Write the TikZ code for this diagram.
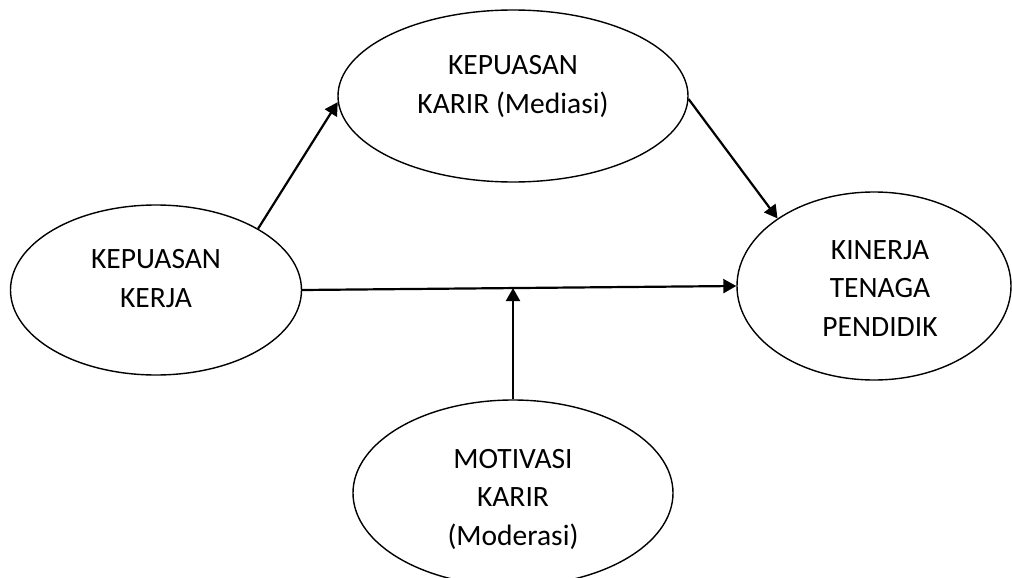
\documentclass[tikz,border=0pt]{standalone}
\usepackage{fontspec}
\setmainfont{Carlito}
\usetikzlibrary{shapes.geometric,arrows.meta,calc}
\begin{document}
\begin{tikzpicture}[x=1pt,y=-1pt,
  var/.style={draw, ellipse, line width=1.4pt, inner sep=0pt},
  lbl/.style={anchor=base, align=center, inner sep=0pt,
              font=\fontsize{29.5}{38.5}\selectfont},
  path/.style={line width=2.2pt, -{Triangle[length=13pt,width=14pt]}}]
  \useasboundingbox (0,0) rectangle (1012,578);

  % constructs
  \node[var, minimum width=350pt, minimum height=172pt] (karir)    at (513,96)  {};
  \node[var, minimum width=291pt, minimum height=170pt] (kerja)    at (156,290) {};
  \node[var, minimum width=274pt, minimum height=188pt] (kinerja)  at (874,286) {};
  \node[var, minimum width=320pt, minimum height=186pt] (motivasi) at (513,493) {};

  % labels (anchored at the baseline of the last line)
  \node[lbl] (karir-t)    at (513,113) {KEPUASAN\\KARIR (Mediasi)};
  \node[lbl] (kerja-t)    at (156,307) {KEPUASAN\\KERJA};
  \node[lbl] (kinerja-t)  at (880,336) {KINERJA\\TENAGA\\PENDIDIK};
  \node[lbl] (motivasi-t) at (513,545) {MOTIVASI\\KARIR\\(Moderasi)};

  % paths
  \draw[path] (kerja.31) -- (karir.182);
  \draw[path] (karir.-1) -- (kinerja.145);
  \draw[path] (kerja.east) -- (kinerja.west);
  \coordinate (mod) at ($(kerja.east)!0.485!(kinerja.west)$);
  \draw[path] (motivasi.north) -- (motivasi.north |- mod);
\end{tikzpicture}
\end{document}
